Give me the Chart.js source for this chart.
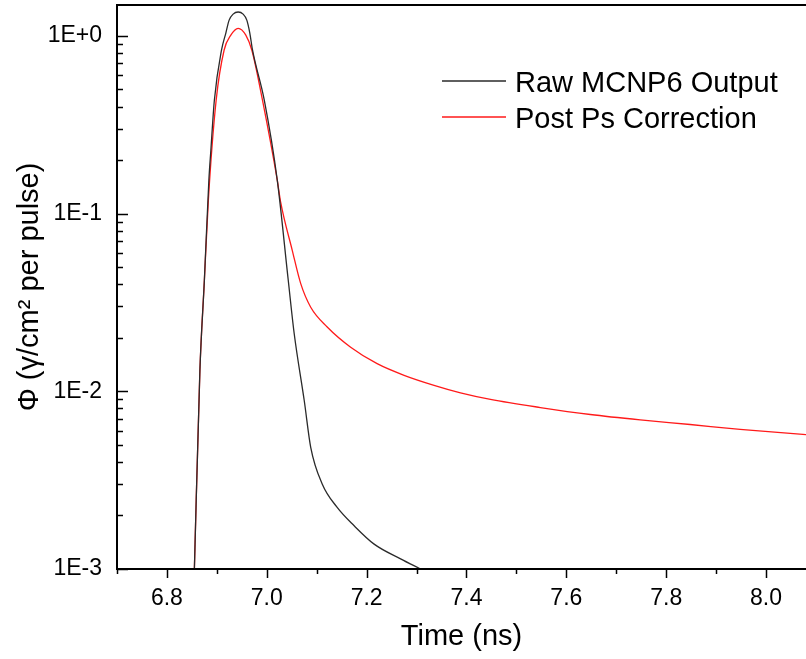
<!DOCTYPE html>
<html>
<head>
    <meta charset="utf-8">
    <title>Raw MCNP6 Output vs Post Ps Correction</title>
    <script src="https://cdn.jsdelivr.net/npm/chart.js"></script>
    <style>
        html, body {
            margin: 0;
            padding: 0;
            background: #fff;
        }
        .chart-box {
            position: relative;
            width: 806px;
            height: 659px;
        }
    </style>
</head>
<body>
    <div class="chart-box">
        <canvas id="myChart"></canvas>
    </div>

    <script>
        // time (ns) and flux
        const rawTime = [6.855, 6.866, 6.875, 6.884, 6.888, 6.895, 6.9094, 6.918, 6.9246, 6.9326, 6.9426, 6.9526,
                         6.960, 6.966, 6.9714, 6.995, 7.021, 7.043, 7.055, 7.075, 7.088, 7.111, 7.141, 7.175,
                         7.215, 7.268, 7.308];
        const rawFlux = [0.001, 0.0130, 0.0421, 0.154, 0.227, 0.434, 0.832, 1.036, 1.225, 1.324, 1.361, 1.324,
                         1.225, 1.036, 0.832, 0.434, 0.154, 0.0421, 0.0210, 0.00887, 0.00484, 0.00301, 0.00222,
                         0.00175, 0.00138, 0.00114, 0.001];

        const corrTime = [6.855, 6.866, 6.875, 6.883, 6.8986, 6.9146, 6.928, 6.9426, 6.958, 6.970, 6.9914, 7.021,
                          7.028, 7.051, 7.068, 7.088, 7.121, 7.168, 7.221, 7.275, 7.335, 7.388, 7.448, 7.548,
                          7.648, 7.748, 7.848, 7.948, 8.080];
        const corrFlux = [0.001, 0.0130, 0.0421, 0.119, 0.434, 0.832, 1.009, 1.102, 1.009, 0.832, 0.434, 0.154,
                          0.115, 0.0621, 0.0403, 0.0297, 0.0230, 0.0177, 0.0143, 0.0123, 0.0108, 0.0098, 0.0090,
                          0.0081, 0.0074, 0.0069, 0.0065, 0.0061, 0.0057];

        const seriesNames = ['Raw MCNP6 Output', 'Post Ps Correction'];

        // axis ticks
        const xTicks = [6.7, 6.8, 6.9, 7.0, 7.1, 7.2, 7.3, 7.4, 7.5, 7.6, 7.7, 7.8, 7.9, 8.0];
        const yMajor = [0.001, 0.01, 0.1, 1];
        const yMinorSteps = [2, 3, 4, 5, 6, 7, 8, 9];

        const FONT = "'Liberation Sans', Arial, sans-serif";

        const isXMajor = v => Math.round(v * 10) % 2 === 0;
        const isYMajor = v => yMajor.some(m => Math.abs(m - v) / m < 1e-6);

        // frame + tick marks (y ticks point inward, x ticks outward)
        const frameTicks = {
            id: 'frameTicks',
            afterDraw(chart) {
                const { ctx, chartArea: a, scales: { x, y } } = chart;
                ctx.save();
                ctx.strokeStyle = '#000';
                ctx.lineWidth = 2;
                ctx.beginPath();
                ctx.moveTo(a.right, a.top);
                ctx.lineTo(a.left, a.top);
                ctx.lineTo(a.left, a.bottom);
                ctx.lineTo(a.right, a.bottom);
                ctx.stroke();

                ctx.lineWidth = 1.5;
                ctx.beginPath();
                y.ticks.forEach(t => {
                    const py = Math.round(y.getPixelForValue(t.value)) + 0.5;
                    const len = isYMajor(t.value) ? 11 : 6;
                    ctx.moveTo(a.left, py);
                    ctx.lineTo(a.left + len, py);
                });
                x.ticks.forEach(t => {
                    const px = Math.round(x.getPixelForValue(t.value)) + 0.5;
                    const len = isXMajor(t.value) ? 9 : 5;
                    ctx.moveTo(px, a.bottom);
                    ctx.lineTo(px, a.bottom + len);
                });
                ctx.stroke();
                ctx.restore();
            }
        };

        // legend drawn inside the plot, top right
        const innerLegend = {
            id: 'innerLegend',
            afterDraw(chart) {
                const ctx = chart.ctx;
                ctx.save();
                ctx.font = '29px ' + FONT;
                ctx.textBaseline = 'alphabetic';
                ctx.fillStyle = '#000';
                chart.data.datasets.forEach((ds, i) => {
                    const ly = 81 + i * 36;
                    ctx.strokeStyle = ds.borderColor;
                    ctx.lineWidth = 1.3;
                    ctx.beginPath();
                    ctx.moveTo(442, ly);
                    ctx.lineTo(506, ly);
                    ctx.stroke();
                    ctx.fillText(ds.label, 515, ly + 11);
                });
                ctx.restore();
            }
        };

        document.addEventListener('DOMContentLoaded', function() {
            const ctx = document.getElementById('myChart').getContext('2d');

            new Chart(ctx, {
                type: 'line',
                data: {
                    datasets: [
                        {
                            label: seriesNames[0],
                            data: rawTime.map((t, i) => ({ x: t, y: rawFlux[i] })),
                            borderColor: '#2a2a2a',
                            borderWidth: 1.3,
                            pointRadius: 0,
                            cubicInterpolationMode: 'monotone',
                            fill: false
                        },
                        {
                            label: seriesNames[1],
                            data: corrTime.map((t, i) => ({ x: t, y: corrFlux[i] })),
                            borderColor: '#ff1a1a',
                            borderWidth: 1.3,
                            pointRadius: 0,
                            cubicInterpolationMode: 'monotone',
                            fill: false
                        }
                    ]
                },
                options: {
                    responsive: true,
                    maintainAspectRatio: false,
                    animation: false,
                    layout: { padding: { top: 5, right: 0, bottom: 0, left: 0 } },
                    plugins: {
                        legend: { display: false },
                        tooltip: { enabled: false }
                    },
                    scales: {
                        x: {
                            type: 'linear',
                            min: 6.7,
                            max: 8.08,
                            grid: { display: false, drawTicks: false },
                            border: { display: false },
                            afterBuildTicks: axis => {
                                axis.ticks = xTicks.map(v => ({ value: v }));
                            },
                            afterFit: axis => {
                                axis.height = 90;
                                axis.paddingLeft = 0;
                                axis.paddingRight = 0;
                            },
                            ticks: {
                                autoSkip: false,
                                maxRotation: 0,
                                padding: 16,
                                color: '#000',
                                font: { family: FONT, size: 23 },
                                callback: v => isXMajor(v) ? v.toFixed(1) : ''
                            },
                            title: {
                                display: true,
                                text: 'Time (ns)',
                                color: '#000',
                                font: { family: FONT, size: 29 },
                                padding: { top: 0, bottom: 5 }
                            }
                        },
                        y: {
                            type: 'logarithmic',
                            min: 0.001,
                            max: 1.49,
                            grid: { display: false, drawTicks: false },
                            border: { display: false },
                            afterBuildTicks: axis => {
                                const list = [];
                                yMajor.forEach(m => {
                                    list.push({ value: m });
                                    yMinorSteps.forEach(s => {
                                        if (m * s <= 1.49) list.push({ value: m * s });
                                    });
                                });
                                axis.ticks = list;
                            },
                            afterFit: axis => {
                                axis.width = 117;
                                axis.paddingTop = 0;
                                axis.paddingBottom = 0;
                            },
                            ticks: {
                                autoSkip: false,
                                padding: 15,
                                color: '#000',
                                font: { family: FONT, size: 23 },
                                callback: v => {
                                    if (!isYMajor(v)) return '';
                                    const e = Math.round(Math.log10(v));
                                    return '1E' + (e >= 0 ? '+' : '-') + Math.abs(e);
                                }
                            },
                            title: {
                                display: true,
                                text: 'Φ (γ/cm² per pulse)',
                                color: '#000',
                                font: { family: FONT, size: 29 },
                                padding: { top: 13, bottom: 0 }
                            }
                        }
                    }
                },
                plugins: [frameTicks, innerLegend]
            });
        });
    </script>
</body>
</html>
